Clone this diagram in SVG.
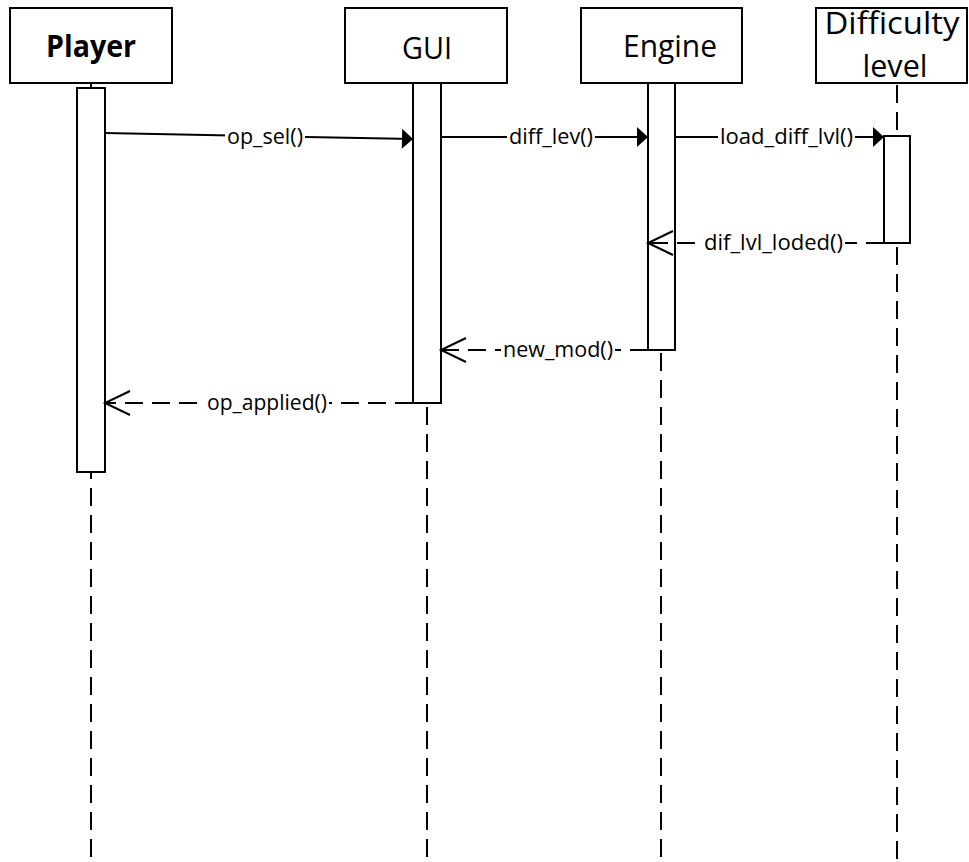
<svg xmlns="http://www.w3.org/2000/svg" width="969" height="862" viewBox="0 0 969 862">
<style>
.box{fill:#fff;stroke:#000;stroke-width:2}
.act{fill:#fff;stroke:#000;stroke-width:2}
.life{stroke:#000;stroke-width:2;stroke-dasharray:18 9;fill:none}
.msg{stroke:#000;stroke-width:2;fill:none}
.ret{stroke:#000;stroke-width:2;stroke-dasharray:18 9;fill:none}
.hdr{font-family:"Open Sans","Noto Sans","Liberation Sans",sans-serif;font-size:31px;fill:#000}
.lbl{font-family:"Open Sans","Noto Sans","Liberation Sans",sans-serif;font-size:21px;fill:#000}
.bg{fill:#fff;stroke:none}
</style>
<defs>
<marker id="filled" markerUnits="userSpaceOnUse" viewBox="0 0 11 20" refX="11" refY="10" markerWidth="11" markerHeight="20" orient="auto" overflow="visible">
<path d="M0,0 L11,10 L0,20 Z" fill="#000"/>
</marker>
<marker id="open" markerUnits="userSpaceOnUse" viewBox="0 0 26 26" refX="25" refY="13" markerWidth="26" markerHeight="26" orient="auto" overflow="visible">
<path d="M0,1 L25,13 L0,25" fill="none" stroke="#000" stroke-width="2"/>
</marker>
</defs>

<g id="lifelines">
<line class="life" x1="91" y1="83" x2="91" y2="862"/>
<line class="life" x1="427" y1="83" x2="427" y2="862"/>
<line class="life" x1="661" y1="83" x2="661" y2="862"/>
<line class="life" x1="897" y1="85" x2="897" y2="862"/>
</g>

<g id="player">
<rect class="box" x="10" y="8" width="162" height="75"/>
<text class="hdr" x="91" y="57" text-anchor="middle" font-weight="bold" textLength="90" lengthAdjust="spacingAndGlyphs">Player</text>
<rect class="act" x="77" y="88" width="28" height="384"/>
</g>

<g id="gui">
<rect class="box" x="345" y="8" width="162" height="75"/>
<text class="hdr" x="427" y="59" text-anchor="middle" textLength="50" lengthAdjust="spacingAndGlyphs">GUI</text>
<rect class="act" x="413" y="83" width="28" height="320"/>
</g>

<g id="engine">
<rect class="box" x="581" y="8" width="161" height="75"/>
<text class="hdr" x="623" y="57" textLength="94" lengthAdjust="spacingAndGlyphs">Engine</text>
<rect class="act" x="648" y="83" width="27" height="267"/>
</g>

<g id="difficulty">
<rect class="box" x="816" y="8" width="151" height="75"/>
<text class="hdr" x="892" y="34" text-anchor="middle" textLength="135" lengthAdjust="spacingAndGlyphs">Difficulty</text>
<text class="hdr" x="895" y="77" text-anchor="middle" textLength="65" lengthAdjust="spacingAndGlyphs">level</text>
<rect class="act" x="884" y="136" width="26" height="107"/>
</g>

<g id="connectors">
<line class="msg" x1="105" y1="133" x2="413" y2="139" marker-end="url(#filled)"/>
<rect class="bg" x="225" y="124" width="80" height="26"/>
<text class="lbl" x="227" y="144" textLength="76" lengthAdjust="spacingAndGlyphs">op_sel()</text>

<line class="msg" x1="441" y1="137" x2="648" y2="137" marker-end="url(#filled)"/>
<rect class="bg" x="507" y="124" width="88" height="26"/>
<text class="lbl" x="509" y="144" textLength="84" lengthAdjust="spacingAndGlyphs">diff_lev()</text>

<line class="msg" x1="675" y1="137" x2="884" y2="137" marker-end="url(#filled)"/>
<rect class="bg" x="718" y="124" width="137" height="26"/>
<text class="lbl" x="720" y="144" textLength="133" lengthAdjust="spacingAndGlyphs">load_diff_lvl()</text>

<line class="ret" x1="884" y1="243" x2="648" y2="243" marker-end="url(#open)"/>
<rect class="bg" x="702" y="230" width="143" height="26"/>
<text class="lbl" x="704" y="250" textLength="139" lengthAdjust="spacingAndGlyphs">dif_lvl_loded()</text>

<line class="ret" x1="648" y1="350" x2="441" y2="350" marker-end="url(#open)"/>
<rect class="bg" x="501" y="337" width="114" height="26"/>
<text class="lbl" x="503" y="357" textLength="110" lengthAdjust="spacingAndGlyphs">new_mod()</text>

<line class="ret" x1="413" y1="403" x2="105" y2="403" marker-end="url(#open)"/>
<rect class="bg" x="205" y="390" width="124" height="26"/>
<text class="lbl" x="207" y="410" textLength="120" lengthAdjust="spacingAndGlyphs">op_applied()</text>
</g>
</svg>
